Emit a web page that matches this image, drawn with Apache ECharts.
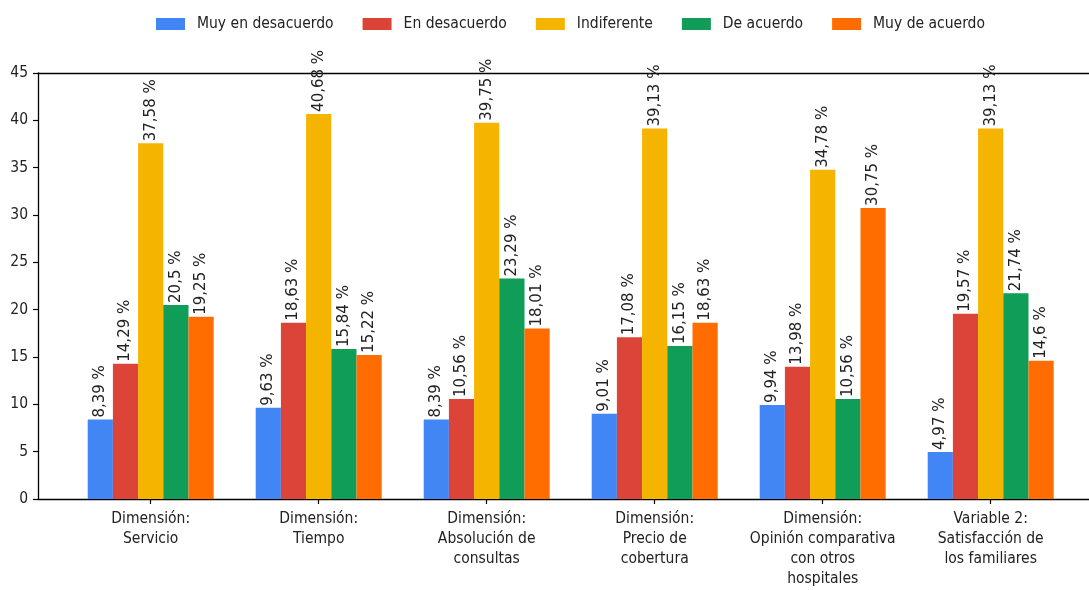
<!DOCTYPE html>
<html>
<head>
<meta charset="utf-8">
<script src="https://cdn.jsdelivr.net/npm/echarts@6/dist/echarts.min.js"></script>
<style>
  html, body { margin: 0; padding: 0; background: #fff; }
  #chart { width: 1089px; height: 590px; }
</style>
</head>
<body>
<div id="chart"></div>
<script>
// Survey answers per dimension, in percent
const categories = [
  'Dimensión:\nServicio',
  'Dimensión:\nTiempo',
  'Dimensión:\nAbsolución de\nconsultas',
  'Dimensión:\nPrecio de\ncobertura',
  'Dimensión:\nOpinión comparativa\ncon otros\nhospitales',
  'Variable 2:\nSatisfacción de\nlos familiares'
];
const seriesNames = ['Muy en desacuerdo', 'En desacuerdo', 'Indiferente', 'De acuerdo', 'Muy de acuerdo'];
const muyEnDesacuerdo = [8.39, 9.63, 8.39, 9.01, 9.94, 4.97];
const enDesacuerdo = [14.29, 18.63, 10.56, 17.08, 13.98, 19.57];
const indiferente = [37.58, 40.68, 39.75, 39.13, 34.78, 39.13];
const deAcuerdo = [20.5, 15.84, 23.29, 16.15, 10.56, 21.74];
const muyDeAcuerdo = [19.25, 15.22, 18.01, 18.63, 30.75, 14.6];
const yTicks = [0, 5, 10, 15, 20, 25, 30, 35, 40, 45];

const seriesValues = [muyEnDesacuerdo, enDesacuerdo, indiferente, deAcuerdo, muyDeAcuerdo];
const colors = ['#4285F4', '#DB4437', '#F4B400', '#0F9D58', '#FF6D00'];

const condensed = '"DejaVu Sans Condensed", "Liberation Sans Narrow", "DejaVu Sans", sans-serif';
const textColor = '#222';

const chart = echarts.init(document.getElementById('chart'), null, { renderer: 'canvas' });

const series = seriesNames.map((name, i) => ({
  name: name,
  type: 'bar',
  xAxisIndex: 0,
  yAxisIndex: 0,
  barGap: '0%',
  barCategoryGap: '25%',
  itemStyle: { color: colors[i] },
  label: {
    show: true,
    position: 'top',
    rotate: 90,
    align: 'left',
    verticalAlign: 'middle',
    distance: 2,
    fontFamily: '"DejaVu Sans", sans-serif',
    fontSize: 15,
    color: textColor,
    formatter: p => String(p.value).replace('.', ',') + ' %'
  },
  data: seriesValues[i]
}));

chart.setOption({
  animation: false,
  color: colors,
  legend: {
    data: seriesNames,
    top: 16,
    left: 156,
    padding: 0,
    itemWidth: 29,
    itemHeight: 12,
    itemGap: 29,
    icon: 'rect',
    textStyle: {
      fontFamily: condensed,
      fontSize: 15.5,
      color: textColor,
      padding: [0, 0, 0, 7]
    }
  },
  grid: [
    // bars
    { left: 66.7, right: 14.3, top: 73, bottom: 91, containLabel: false },
    // frame: left axis, bottom and top lines across the whole width
    { left: 38, right: -5, top: 73, bottom: 91, containLabel: false }
  ],
  xAxis: [
    {
      type: 'category',
      gridIndex: 0,
      data: categories,
      axisLine: { show: false },
      axisTick: { show: true, alignWithLabel: true, length: 5, lineStyle: { color: '#000', width: 1.2 } },
      axisLabel: {
        interval: 0,
        margin: 10,
        fontFamily: condensed,
        fontSize: 15.5,
        lineHeight: 20,
        color: textColor,
        align: 'center'
      },
      splitLine: { show: false }
    },
    {
      type: 'value',
      gridIndex: 1,
      position: 'bottom',
      min: 0,
      max: 1,
      axisLine: { show: true, onZero: false, lineStyle: { color: '#000', width: 1.3 } },
      axisTick: { show: false },
      axisLabel: { show: false },
      splitLine: { show: false }
    },
    {
      type: 'value',
      gridIndex: 1,
      position: 'top',
      min: 0,
      max: 1,
      axisLine: { show: true, onZero: false, lineStyle: { color: '#000', width: 1.3 } },
      axisTick: { show: false },
      axisLabel: { show: false },
      splitLine: { show: false }
    }
  ],
  yAxis: [
    {
      type: 'value',
      gridIndex: 0,
      min: yTicks[0],
      max: yTicks[yTicks.length - 1],
      interval: 5,
      show: false
    },
    {
      type: 'value',
      gridIndex: 1,
      min: yTicks[0],
      max: yTicks[yTicks.length - 1],
      interval: 5,
      axisLine: { show: true, lineStyle: { color: '#000', width: 1.3 } },
      axisTick: { show: true, length: 5, lineStyle: { color: '#000', width: 1.2 } },
      axisLabel: {
        margin: 10,
        fontFamily: condensed,
        fontSize: 15.5,
        color: textColor,
        formatter: v => yTicks.includes(v) ? String(v) : ''
      },
      splitLine: { show: false }
    }
  ],
  series: series
});
</script>
</body>
</html>
